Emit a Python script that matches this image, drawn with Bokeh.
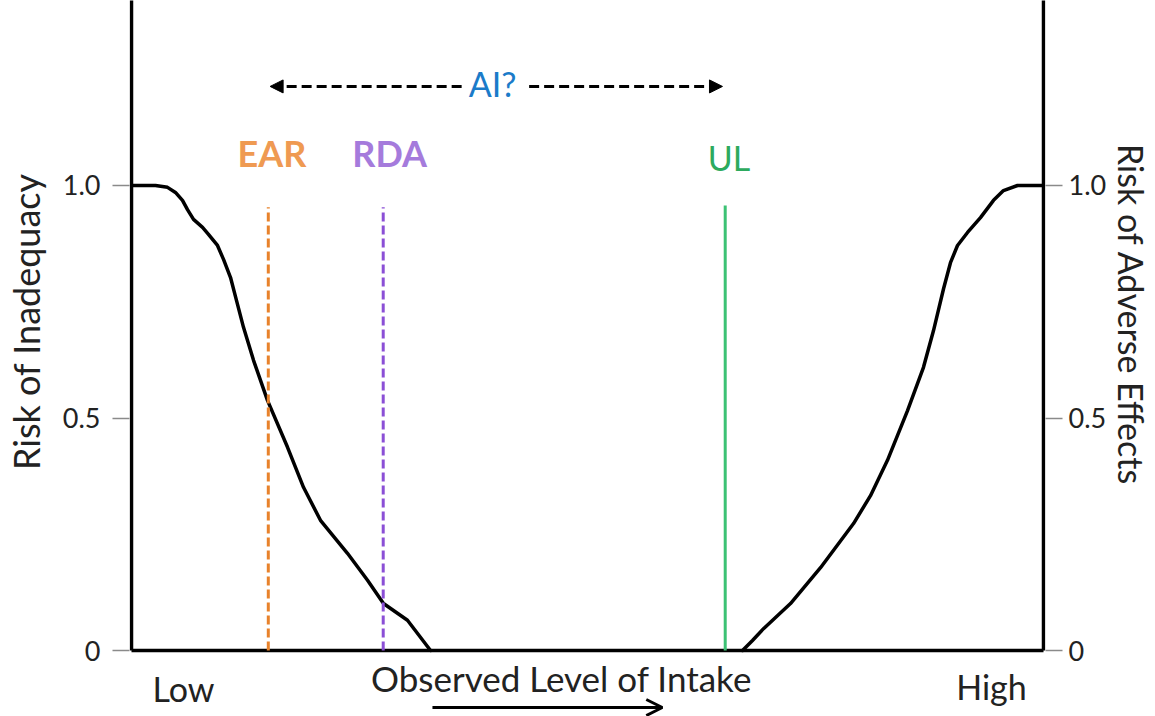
from bokeh.plotting import figure
from bokeh.models import Range1d, LinearAxis, FixedTicker, Arrow, NormalHead, OpenHead
from bokeh.core.properties import value
from bokeh.embed import file_html
from bokeh.resources import INLINE

# ---------------- data ----------------
# risk of inadequacy curve (low intake side)
left_x = [0.0, 0.263, 0.395, 0.482, 0.559, 0.614, 0.680, 0.779, 0.844, 0.943, 1.009, 1.086,
          1.151, 1.228, 1.338, 1.491, 1.711, 1.886, 2.072, 2.368, 2.588, 2.763, 3.026, 3.279]
left_y = [1.0, 1.0, 0.996, 0.985, 0.968, 0.948, 0.927, 0.910, 0.895, 0.871, 0.841, 0.802,
          0.753, 0.695, 0.624, 0.538, 0.437, 0.351, 0.280, 0.209, 0.151, 0.101, 0.065, 0.0]
# risk of adverse effects curve (high intake side)
right_x = [6.700, 6.809, 6.930, 7.226, 7.555, 7.917, 8.103, 8.289, 8.509, 8.684, 8.794, 8.904,
           8.980, 9.057, 9.167, 9.309, 9.452, 9.561, 9.715, 10.0]
right_y = [0.0, 0.0215, 0.047, 0.101, 0.178, 0.273, 0.333, 0.409, 0.516, 0.609, 0.688, 0.778,
           0.834, 0.871, 0.899, 0.931, 0.968, 0.989, 1.0, 1.0]

ref_labels = ["EAR", "RDA", "UL"]
ref_x = [1.50, 2.76, 6.51]
ref_top = [0.953, 0.953, 0.957]

y_ticks = [0, 0.5, 1.0]
y_tick_labels = ["0", "0.5", "1.0"]

end_labels = ["Low", "High"]
end_x = [0.57, 9.43]

ai_label = "AI?"
ai_span = [1.52, 6.48]

x_title = "Observed Level of Intake"
left_title = "Risk of Inadequacy"
right_title = "Risk of Adverse Effects"

# ---------------- figure ----------------
X0, X1 = 0.0, 10.0
pad = 2 / 91.2
FONT = "Lato"
NBSP = "\u00a0"

p = figure(width=1155, height=716,
           x_range=Range1d(X0 - pad, X1 + pad), y_range=Range1d(-0.1419, 1.3978),
           output_backend="svg", toolbar_location=None,
           x_axis_location=None, y_axis_location=None,
           min_border_left=129, min_border_right=110,
           min_border_top=0, min_border_bottom=0,
           outline_line_color=None, background_fill_color="white")
p.grid.visible = False


def make_axis(label, tick_standoff, label_standoff, label_size):
    ax = LinearAxis(ticker=FixedTicker(ticks=y_ticks), axis_label=label)
    ax.major_label_overrides = dict(zip(y_ticks, y_tick_labels))
    ax.axis_line_color = None
    ax.major_tick_line_color = "#8a8a8a"
    ax.major_tick_line_width = 1.5
    ax.major_tick_out = 17
    ax.major_tick_in = 0
    ax.minor_tick_line_color = None
    ax.major_label_standoff = tick_standoff
    ax.major_label_text_font = FONT
    ax.major_label_text_font_size = "27px"
    ax.major_label_text_color = "#222222"
    ax.axis_label_standoff = label_standoff
    ax.axis_label_text_font = FONT
    ax.axis_label_text_font_size = label_size
    ax.axis_label_text_font_style = "normal"
    ax.axis_label_text_color = "#222222"
    return ax


# axis titles are centred on the frame; pad them with non-breaking spaces so that
# they sit higher, as in the reference
p.add_layout(make_axis(NBSP * 8 + left_title, 12, 12, "36px"), "left")
p.add_layout(make_axis(right_title + NBSP * 10, 6, 2, "34px"), "right")

# frame lines (left, right, bottom)
p.segment(x0=[X0, X1, X0], y0=[0, 0, 0], x1=[X0, X1, X1], y1=[1.45, 1.45, 0],
          line_color="black", line_width=3.5)

# curves
p.line(left_x, left_y, line_color="black", line_width=3.5, line_join="round", line_cap="round")
p.line(right_x, right_y, line_color="black", line_width=3.5, line_join="round", line_cap="round")

# reference lines
line_colors = ["#E8822B", "#8B4FD6", "#3CC274"]
dashes = ["9 4", "9 4", "solid"]
for xv, top, col, dash in zip(ref_x, ref_top, line_colors, dashes):
    p.segment(x0=[xv], y0=[0], x1=[xv], y1=[top], line_color=col, line_width=3, line_dash=dash)

# reference labels
p.text(x=[ref_x[0] + 0.04], y=[1.070], text=[ref_labels[0]], text_font=value(FONT),
       text_font_size="36px", text_font_style="bold", text_color="#EF9A52",
       text_align="center", text_baseline="alphabetic")
p.text(x=[ref_x[1] + 0.07], y=[1.070], text=[ref_labels[1]], text_font=value(FONT),
       text_font_size="36px", text_font_style="bold", text_color="#A57BDC",
       text_align="center", text_baseline="alphabetic")
p.text(x=[ref_x[2] + 0.04], y=[1.061], text=[ref_labels[2]], text_font=value(FONT),
       text_font_size="34px", text_color="#2DAA5E",
       text_align="center", text_baseline="alphabetic")

# AI? label with dashed arrows
ai_y = 1.213
ai_mid = 3.96
p.text(x=[ai_mid], y=[1.220], text=[ai_label], text_font=value(FONT), text_font_size="34px",
       text_color="#1B7BC9", text_align="center", text_baseline="alphabetic")
p.add_layout(Arrow(end=NormalHead(size=13, fill_color="black", line_color="black"),
                   x_start=ai_mid - 0.34, y_start=ai_y, x_end=ai_span[0], y_end=ai_y,
                   line_color="black", line_width=3, line_dash="10 5"))
p.add_layout(Arrow(end=NormalHead(size=13, fill_color="black", line_color="black"),
                   x_start=ai_mid + 0.40, y_start=ai_y, x_end=ai_span[1], y_end=ai_y,
                   line_color="black", line_width=3, line_dash="10 5"))

# bottom labels
p.text(x=end_x, y=[-0.082, -0.0775], text=end_labels, text_font=value(FONT),
       text_font_size="34px", text_color="#222222", text_align="center",
       text_baseline="alphabetic")
p.text(x=[4.715], y=[-0.060], text=[x_title], text_font=value(FONT),
       text_font_size="35px", text_color="#222222", text_align="center",
       text_baseline="alphabetic")
p.add_layout(Arrow(end=OpenHead(size=16, line_width=3, line_color="black"),
                   x_start=3.30, y_start=-0.1226, x_end=5.82, y_end=-0.1226,
                   line_color="black", line_width=3))

open("out.html", "w").write(file_html(p, INLINE))
